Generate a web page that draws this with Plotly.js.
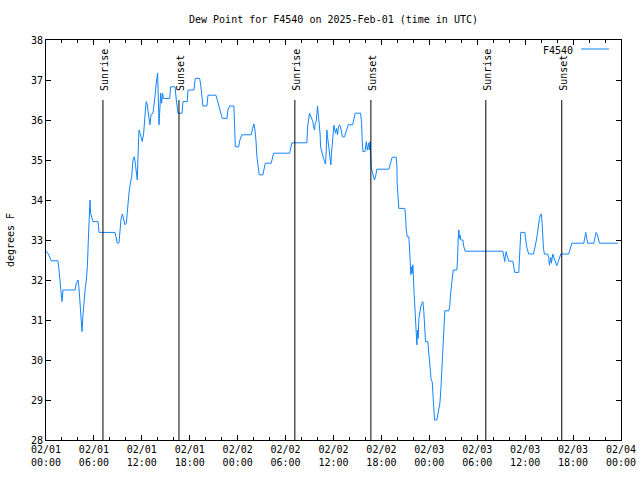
<!DOCTYPE html>
<html>
<head>
<meta charset="utf-8">
<script src="https://cdn.plot.ly/plotly-3.0.1.min.js"></script>
<style>html,body{margin:0;padding:0;background:#fff;}#chart{width:640px;height:480px;}</style>
</head>
<body>
<div id="chart"></div>
<script>
// Hours since 2025-02-01 00:00 UTC
const hours = [
0.05,0.34,0.67,1.5,1.59,1.71,1.8,1.92,2.0,2.13,3.63,3.8,4.01,4.13,4.26,4.38,4.51,4.63,4.76,4.93,
5.05,5.18,5.3,5.38,5.51,5.59,5.72,5.88,6.51,6.64,8.64,8.81,8.93,9.14,9.22,9.39,9.56,9.73,9.89,10.06,
10.22,10.39,10.56,10.73,10.89,11.06,11.18,11.31,11.43,11.52,11.64,11.77,11.93,12.06,12.23,12.31,12.48,12.56,12.69,12.81,
12.89,13.02,13.15,13.4,13.6,13.73,13.85,13.98,14.06,14.15,14.23,14.36,14.48,14.6,14.69,15.48,15.61,16.15,16.32,16.52,
17.03,17.15,17.69,17.78,18.53,18.69,19.24,19.36,19.53,19.65,20.15,20.28,21.28,21.45,21.61,21.74,21.95,22.07,22.66,22.78,
22.99,23.53,23.62,23.7,24.12,24.28,24.53,25.7,25.87,26.04,26.16,26.29,26.41,26.58,26.7,27.16,27.29,27.46,28.2,28.33,
28.5,30.5,30.63,30.79,32.67,32.75,33.0,33.13,33.33,33.42,33.5,33.63,33.71,33.84,33.92,34.0,34.13,34.25,34.33,34.38,
34.5,34.59,34.75,34.88,35.0,35.09,35.17,35.25,35.38,35.46,35.59,35.67,35.75,35.84,35.92,36.05,36.17,36.26,36.38,36.51,
36.63,36.76,36.88,37.0,37.12,37.38,37.5,37.67,37.84,38.4,38.55,38.72,39.39,39.52,39.6,39.69,39.94,40.03,40.11,40.23,
40.32,40.4,40.48,40.57,40.65,40.72,40.85,41.0,41.13,41.26,41.34,41.43,42.93,43.06,43.22,43.35,43.85,43.94,43.97,44.1,
44.18,44.93,45.02,45.1,45.23,45.44,45.52,45.61,45.69,45.77,45.85,45.94,46.02,46.1,46.23,46.35,46.44,46.52,46.6,46.69,
46.81,46.94,47.06,47.19,47.31,47.4,47.52,47.81,47.9,48.02,48.11,48.23,48.36,48.44,48.57,48.65,48.94,49.07,49.19,49.32,
49.44,49.57,49.69,49.82,49.94,50.44,50.57,50.65,50.78,50.9,50.99,51.44,51.53,51.61,51.69,51.78,51.86,51.94,52.2,52.32,
52.49,57.2,57.28,57.37,57.45,57.53,57.62,57.7,57.83,57.95,58.45,58.58,58.7,59.2,59.29,59.37,59.45,59.95,60.03,60.16,
60.29,60.45,61.04,61.16,61.29,61.41,61.54,61.66,61.79,61.91,62.04,62.12,62.21,62.29,62.41,62.83,62.96,63.04,63.13,63.21,
63.29,63.38,63.46,63.58,63.71,63.83,63.96,64.08,64.21,64.33,64.46,65.46,65.59,65.71,65.84,67.34,67.46,67.59,67.71,67.84,
68.59,68.71,68.88,69.05,69.17,69.3,71.6
];
// Dew point, degrees F
const dewPoint = [
32.72,32.63,32.48,32.48,32.33,32.08,31.83,31.58,31.46,31.75,31.75,31.92,32.0,31.8,31.33,30.92,30.71,31.13,31.5,31.83,
32.0,32.33,33.0,33.67,34.0,33.67,33.58,33.46,33.46,33.19,33.19,33.0,32.92,32.93,33.17,33.52,33.65,33.5,33.38,33.42,
33.86,34.17,34.42,34.58,35.0,35.08,34.92,34.67,34.5,35.08,35.75,35.68,35.54,35.46,35.67,35.96,36.33,36.46,36.38,36.17,
36.0,35.88,36.13,36.17,36.5,36.88,37.0,37.17,36.71,35.88,36.17,36.67,36.42,36.67,36.54,36.54,36.83,36.83,36.5,36.17,
36.17,36.46,36.46,36.75,36.75,37.04,37.04,36.9,36.58,36.35,36.35,36.62,36.62,36.5,36.38,36.25,36.17,36.04,36.04,36.25,
36.35,36.35,35.83,35.33,35.33,35.5,35.63,35.63,35.79,35.9,35.75,35.5,35.08,34.79,34.63,34.63,34.79,34.92,34.92,35.04,
35.17,35.17,35.33,35.43,35.43,35.83,36.17,36.1,36.04,35.96,35.83,35.75,35.92,35.96,36.17,36.35,36.08,35.83,35.63,35.33,
35.21,35.13,35.04,34.96,34.9,35.21,35.75,35.58,35.42,35.25,35.0,34.88,35.17,35.46,35.63,35.87,35.75,35.67,35.79,35.63,
35.83,35.88,35.83,35.71,35.58,35.58,35.67,35.79,35.88,35.88,36.04,36.17,36.17,35.92,35.46,35.21,35.21,35.33,35.46,35.25,
35.33,35.42,35.25,35.46,35.17,34.83,34.71,34.54,34.5,34.58,34.75,34.77,34.77,34.88,35.0,35.07,35.07,34.83,34.42,34.0,
33.79,33.79,33.63,33.28,33.08,33.08,32.83,32.38,32.13,32.33,32.17,32.38,32.13,31.63,31.17,30.67,30.38,30.75,30.54,31.04,
31.21,31.33,31.42,31.46,31.21,30.71,30.46,30.46,30.29,30.0,29.75,29.5,29.46,29.25,28.75,28.5,28.5,28.67,28.79,28.92,
29.25,29.75,30.29,30.92,31.23,31.23,31.38,31.63,31.88,32.13,32.25,32.25,32.5,33.0,33.25,33.04,33.12,33.0,33.0,32.83,
32.72,32.72,32.65,32.52,32.46,32.63,32.71,32.63,32.52,32.47,32.47,32.33,32.19,32.19,32.46,32.92,33.19,33.19,33.04,32.87,
32.75,32.65,32.65,32.75,32.87,33.0,33.17,33.42,33.54,33.64,33.64,33.42,33.04,32.79,32.65,32.65,32.54,32.37,32.5,32.57,
32.42,32.57,32.65,32.57,32.48,32.42,32.36,32.42,32.5,32.6,32.65,32.65,32.75,32.83,32.92,32.92,33.04,33.19,33.04,32.92,
32.92,33.04,33.19,33.13,33.0,32.92,32.92
];
const seriesName = 'F4540';
const eventHours = [7.13, 16.65, 31.16, 40.68, 55.07, 64.58];
const eventLabels = ['Sunrise', 'Sunset', 'Sunrise', 'Sunset', 'Sunrise', 'Sunset'];
const tickHours = [0, 6, 12, 18, 24, 30, 36, 42, 48, 54, 60, 66, 72];
const tickLabels = ['02/01<br>00:00','02/01<br>06:00','02/01<br>12:00','02/01<br>18:00',
  '02/02<br>00:00','02/02<br>06:00','02/02<br>12:00','02/02<br>18:00',
  '02/03<br>00:00','02/03<br>06:00','02/03<br>12:00','02/03<br>18:00','02/04<br>00:00'];
const yTicks = [28, 29, 30, 31, 32, 33, 34, 35, 36, 37, 38];

const base = Date.UTC(2025, 1, 1);
function toDate(h) {
  return new Date(base + h * 3600000).toISOString().slice(0, 19).replace('T', ' ');
}

const FONT = 'DejaVu Sans Mono, monospace';
const W = 640, H = 480, L = 46, R = 19, T = 40, B = 40;
const px2x = p => (p - L) / (W - L - R);
const px2y = p => (H - B - p) / (H - T - B);
const lineColor = 'rgb(18,132,255)';

const trace = {
  x: hours.map(toDate),
  y: dewPoint,
  type: 'scatter',
  mode: 'lines',
  name: seriesName,
  line: {color: lineColor, width: 1},
  showlegend: false
};

const shapes = eventHours.map(h => ({
  type: 'line', xref: 'x', yref: 'y',
  x0: toDate(h), x1: toDate(h), y0: 28, y1: 36.5,
  line: {color: 'black', width: 1}
}));
shapes.push({
  type: 'line', xref: 'paper', yref: 'paper',
  x0: px2x(581), x1: px2x(609), y0: px2y(49), y1: px2y(49),
  line: {color: lineColor, width: 1}
});

const annotations = eventHours.map((h, i) => ({
  x: toDate(h), y: 36.5, xref: 'x', yref: 'y',
  text: eventLabels[i], showarrow: false, textangle: -90,
  xanchor: 'center', yanchor: 'bottom', yshift: 7, xshift: 1,
  font: {family: FONT, size: 10, color: 'black'}
}));
annotations.push({
  x: px2x(575), y: px2y(50), xref: 'paper', yref: 'paper',
  text: seriesName, showarrow: false, xanchor: 'right', yanchor: 'middle',
  font: {family: FONT, size: 10, color: 'black'}
});

const layout = {
  width: W, height: H,
  margin: {l: L, r: R, t: T, b: B, pad: 0},
  paper_bgcolor: 'white', plot_bgcolor: 'white',
  font: {family: FONT, size: 10, color: 'black'},
  title: {text: 'Dew Point for F4540 on 2025-Feb-01 (time in UTC)', x: 0.5, xref: 'paper',
          y: 1 - 19 / H, yref: 'container', yanchor: 'middle',
          font: {family: FONT, size: 10, color: 'black'}},
  xaxis: {
    type: 'date', range: [toDate(0), toDate(72)],
    tickmode: 'array', tickvals: tickHours.map(toDate), ticktext: tickLabels,
    ticks: 'inside', ticklen: 5, tickwidth: 1, tickcolor: 'black',
    minor: {ticks: 'inside', dtick: 2 * 3600000, tick0: toDate(0), ticklen: 3, tickcolor: 'black', showgrid: false},
    showline: true, linecolor: 'black', linewidth: 1, mirror: 'allticks',
    showgrid: false, zeroline: false, fixedrange: true,
    tickfont: {family: FONT, size: 10, color: 'black'}
  },
  yaxis: {
    range: [28, 38], tickmode: 'array', tickvals: yTicks, ticktext: yTicks.map(String),
    ticks: 'inside', ticklen: 5, tickwidth: 1, tickcolor: 'black',
    showline: true, linecolor: 'black', linewidth: 1, mirror: 'allticks',
    showgrid: false, zeroline: false, fixedrange: true,
    tickfont: {family: FONT, size: 10, color: 'black'},
    title: {text: 'degrees F', standoff: 14, font: {family: FONT, size: 10, color: 'black'}}
  },
  shapes: shapes,
  annotations: annotations
};

Plotly.newPlot('chart', [trace], layout, {staticPlot: true, displayModeBar: false});
</script>
</body>
</html>
